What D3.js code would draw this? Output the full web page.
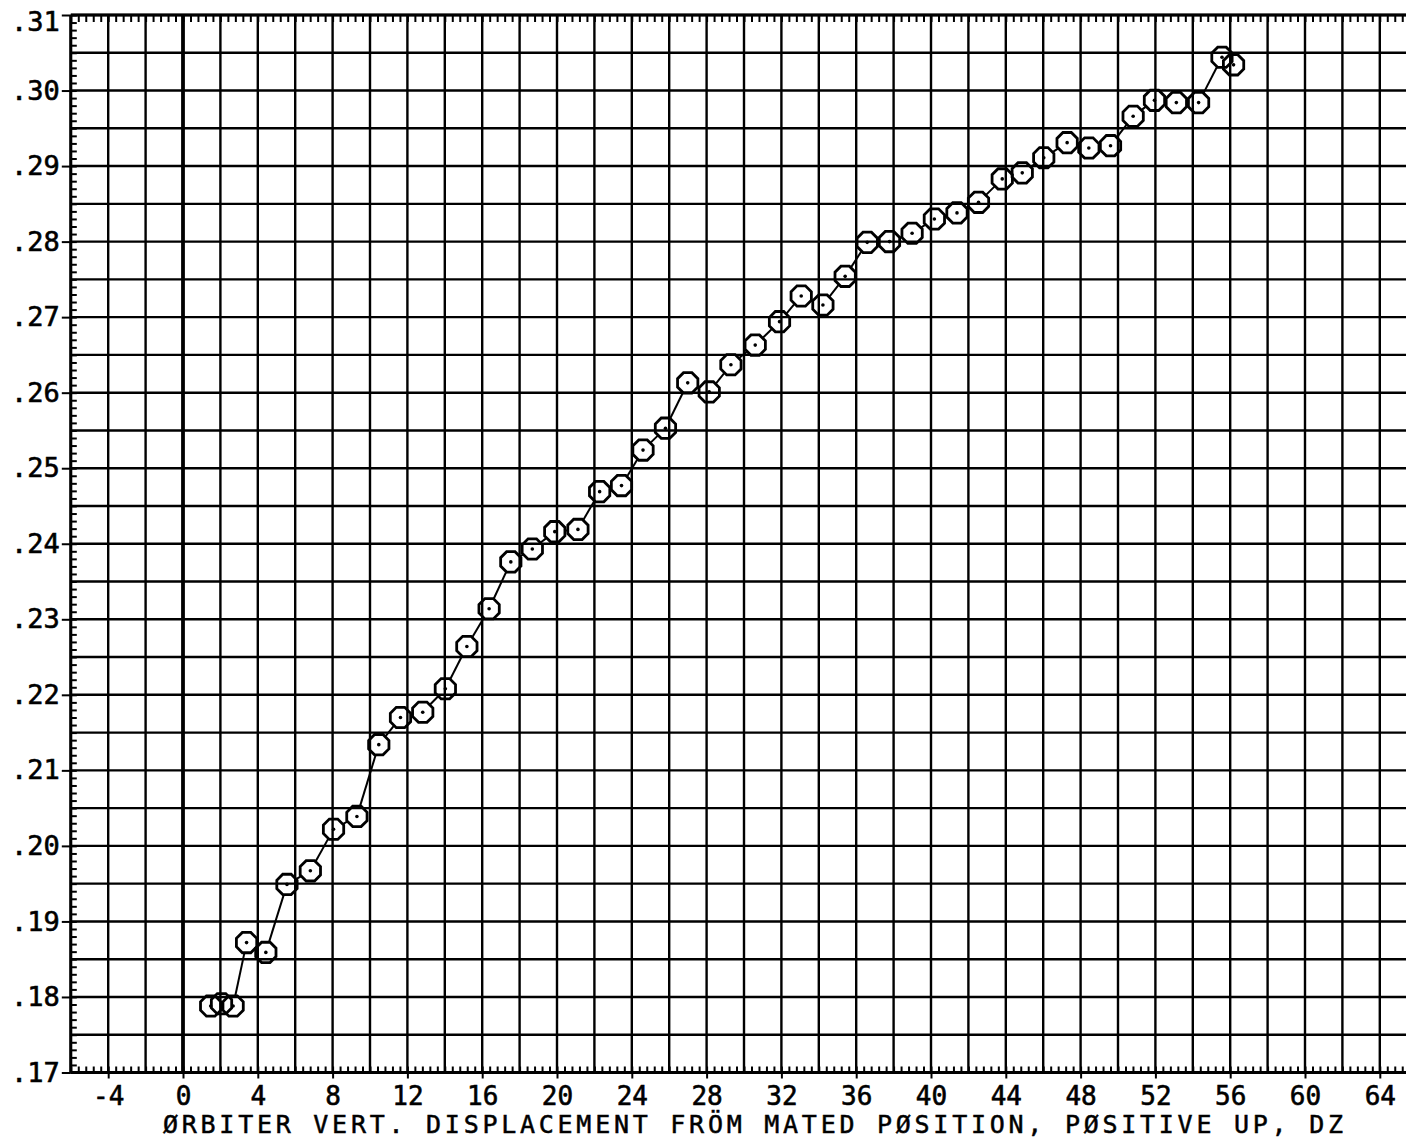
<!DOCTYPE html>
<html>
<head>
<meta charset="utf-8">
<script src="https://cdn.jsdelivr.net/npm/d3@7"></script>
<style>
  html, body { margin: 0; padding: 0; background: #fff; }
  svg { display: block; }
  text { font-family: "DejaVu Sans Mono", monospace; fill: #000; }
</style>
</head>
<body>
<div id="chart"></div>
<script>
// valeurs (DZ, ordonnée)
const dz = [1.48, 2.06, 2.68, 3.40, 4.43, 5.56, 6.81, 8.05, 9.30, 10.47,
  11.63, 12.82, 14.03, 15.18, 16.37, 17.53, 18.68, 19.88, 21.12, 22.28,
  23.45, 24.6, 25.8, 26.99, 28.14, 29.3, 30.6, 31.9, 33.06, 34.22,
  35.41, 36.59, 37.78, 38.99, 40.18, 41.39, 42.54, 43.81, 44.88, 46.03,
  47.28, 48.44, 49.6, 50.81, 51.95, 53.12, 54.31, 55.56, 56.18]
const val = [.1788, .1791, .1788, .1872, .1859, .1949, .1967, .2022, .2039, .2134,
  .2170, .2177, .2208, .2264, .2314, .2376, .2393, .2416, .2419, .2469,
  .2477, .2524, .2553, .2613, .2601, .2637, .2663, .2694, .2728, .2716,
  .2754, .2799, .2800, .2811, .2830, .2838, .2852, .2883, .2891, .2911,
  .2931, .2924, .2927, .2966, .2987, .2984, .2984, .3044, .3034]

const xTicks = [-4, 0, 4, 8, 12, 16, 20, 24, 28, 32, 36, 40, 44, 48, 52, 56, 60, 64]
const yTicks = [.17, .18, .19, .20, .21, .22, .23, .24, .25, .26, .27, .28, .29, .30, .31]
const yTickLabels = ['.17', '.18', '.19', '.20', '.21', '.22', '.23', '.24', '.25', '.26', '.27', '.28', '.29', '.30', '.31']
const xTitle = 'ØRBITER VERT. DISPLACEMENT FRÖM MATED PØSITION, PØSITIVE UP, DZ'

const W = 1406, H = 1139
const x = d3.scaleLinear().domain([-6, 66]).range([70.8, 1417.2])
const y = d3.scaleLinear().domain([0.17, 0.31]).range([1072.5, 15])

const svg = d3.select('#chart').append('svg')
  .attr('width', W).attr('height', H)

// grille
const xGrid = d3.range(-6, 66.01, 2)
const yGrid = d3.range(0, 29).map(i => 0.17 + i * 0.005)

svg.append('g').selectAll('line').data(xGrid).enter().append('line')
  .attr('x1', d => x(d)).attr('x2', d => x(d))
  .attr('y1', y(0.31)).attr('y2', y(0.17))
  .attr('stroke', '#000')
  .attr('stroke-width', d => (d === 0 ? 3.8 : 2.4))

svg.append('g').selectAll('line').data(yGrid).enter().append('line')
  .attr('x1', x(-6)).attr('x2', W)
  .attr('y1', d => y(d)).attr('y2', d => y(d))
  .attr('stroke', '#000')
  .attr('stroke-width', 2.4)

// petites graduations
const xMinor = d3.range(0, 181).map(i => -6 + i * 0.4)
const yMinor = d3.range(0, 141).map(i => 0.17 + i * 0.001)

function styleAxis(g) {
  g.select('.domain').remove()
  g.selectAll('.tick line').attr('stroke', '#000').attr('stroke-width', 2)
}

svg.append('g')
  .attr('transform', `translate(0,${y(0.17)})`)
  .call(d3.axisTop(x).tickValues(xMinor).tickSize(6).tickFormat(''))
  .call(styleAxis)

svg.append('g')
  .attr('transform', `translate(0,${y(0.31)})`)
  .call(d3.axisBottom(x).tickValues(xMinor).tickSize(7).tickFormat(''))
  .call(styleAxis)

svg.append('g')
  .attr('transform', `translate(${x(-6)},0)`)
  .call(d3.axisRight(y).tickValues(yMinor).tickSize(6).tickFormat(''))
  .call(styleAxis)

// axes avec étiquettes
const gx = svg.append('g')
  .attr('transform', `translate(0,${y(0.17)})`)
  .call(d3.axisBottom(x).tickValues(xTicks).tickSize(6).tickPadding(8)
    .tickFormat(d => String(d)))
  .call(styleAxis)
gx.selectAll('text')
  .attr('font-size', 26)
  .attr('font-family', '"DejaVu Sans Mono", monospace')
  .attr('stroke', '#000').attr('stroke-width', 0.6)

const gy = svg.append('g')
  .attr('transform', `translate(${x(-6)},0)`)
  .call(d3.axisLeft(y).tickValues(yTicks).tickSize(9).tickPadding(2)
    .tickFormat((d, i) => yTickLabels[i]))
  .call(styleAxis)
gy.selectAll('text')
  .attr('font-size', 27)
  .attr('font-family', '"DejaVu Sans Mono", monospace')
  .attr('stroke', '#000').attr('stroke-width', 0.6)
  .attr('y', d => (d > 0.305 ? 7 : 0))

// cadre
svg.append('line')
  .attr('x1', x(-6)).attr('x2', x(-6)).attr('y1', y(0.31)).attr('y2', y(0.17))
  .attr('stroke', '#000').attr('stroke-width', 3)
svg.append('line')
  .attr('x1', x(-6)).attr('x2', W).attr('y1', y(0.17)).attr('y2', y(0.17))
  .attr('stroke', '#000').attr('stroke-width', 3)
svg.append('line')
  .attr('x1', x(-6)).attr('x2', W).attr('y1', y(0.31)).attr('y2', y(0.31))
  .attr('stroke', '#000').attr('stroke-width', 3)

// titre de l'axe x
svg.append('text')
  .attr('x', 163).attr('y', 1133)
  .attr('font-size', 25)
  .attr('stroke', '#000').attr('stroke-width', 0.5)
  .attr('textLength', 1180)
  .attr('lengthAdjust', 'spacing')
  .text(xTitle)

// courbe : segments entre les bords des marqueurs
const R = 11
const pts = dz.map((d, i) => [x(d), y(val[i])])
const segs = []
for (let i = 1; i < pts.length; i++) {
  const [x0, y0] = pts[i - 1], [x1, y1] = pts[i]
  const len = Math.hypot(x1 - x0, y1 - y0)
  if (len <= 2 * R) continue
  const ux = (x1 - x0) / len, uy = (y1 - y0) / len
  segs.push([x0 + ux * R, y0 + uy * R, x1 - ux * R, y1 - uy * R])
}
svg.append('g').selectAll('line').data(segs).enter().append('line')
  .attr('x1', d => d[0]).attr('y1', d => d[1])
  .attr('x2', d => d[2]).attr('y2', d => d[3])
  .attr('stroke', '#000').attr('stroke-width', 2)

// marqueurs octogonaux
const octo = d3.range(8).map(k => {
  const a = Math.PI / 8 + k * Math.PI / 4
  return [R * Math.cos(a), R * Math.sin(a)]
})
const octoPath = 'M' + octo.map(p => p.join(',')).join('L') + 'Z'

const mk = svg.append('g').selectAll('g').data(dz).enter().append('g')
  .attr('transform', (d, i) => `translate(${x(d)},${y(val[i])})`)
mk.append('path')
  .attr('d', octoPath)
  .attr('fill', 'none')
  .attr('stroke', '#000')
  .attr('stroke-width', 2.8)
mk.append('circle')
  .attr('r', 1.8)
  .attr('fill', '#000')
</script>
</body>
</html>
